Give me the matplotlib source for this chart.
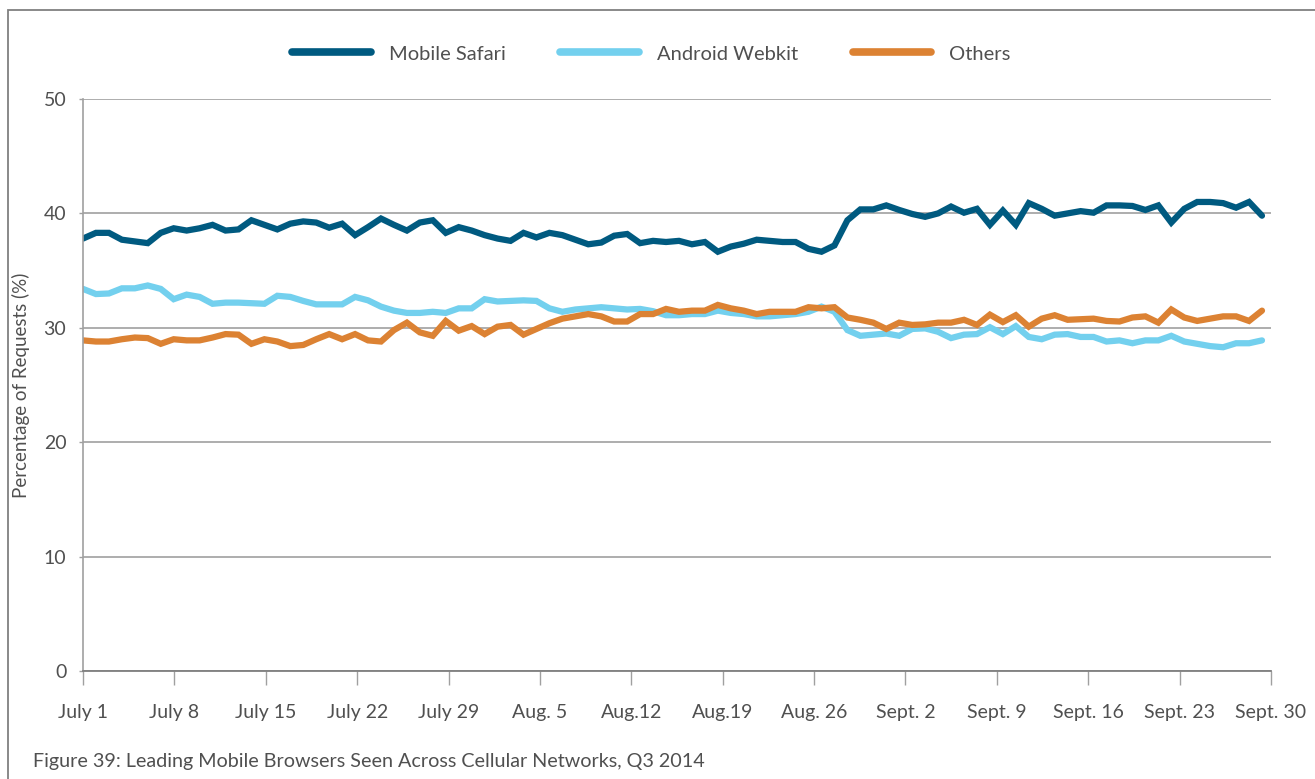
import numpy as np
import matplotlib
matplotlib.use("Agg")
import matplotlib.pyplot as plt
from matplotlib.patches import Rectangle

tick_labels = ["July 1", "July 8", "July 15", "July 22", "July 29", "Aug. 5", "Aug.12",
               "Aug.19", "Aug. 26", "Sept. 2", "Sept. 9", "Sept. 16", "Sept. 23", "Sept. 30"]

mobile_safari = [37.8, 38.3, 38.3, 37.7, 37.55, 37.4, 38.3, 38.7, 38.5, 38.7,
                 39.0, 38.5, 38.6, 39.4, 39.0, 38.6, 39.1, 39.3, 39.2, 38.75,
                 39.1, 38.1, 38.8, 39.55, 39.0, 38.5, 39.2, 39.4, 38.3, 38.8,
                 38.5, 38.1, 37.8, 37.6, 38.3, 37.9, 38.3, 38.1, 37.7, 37.3,
                 37.45, 38.05, 38.2, 37.4, 37.6, 37.5, 37.6, 37.3, 37.5, 36.65,
                 37.1, 37.35, 37.7, 37.6, 37.5, 37.5, 36.9, 36.65, 37.2, 39.4,
                 40.35, 40.35, 40.7, 40.3, 39.95, 39.7, 40.0, 40.6, 40.06, 40.4,
                 39.0, 40.25, 39.0, 40.9, 40.4, 39.8, 40.0, 40.2, 40.06, 40.7,
                 40.7, 40.65, 40.3, 40.7, 39.2, 40.4, 41.0, 41.0, 40.9, 40.5,
                 41.0, 39.8]

android_webkit = [33.4, 32.95, 33.0, 33.45, 33.45, 33.7, 33.4, 32.5, 32.9, 32.7,
                  32.1, 32.2, 32.2, 32.15, 32.1, 32.8, 32.7, 32.35, 32.05, 32.05,
                  32.05, 32.7, 32.4, 31.85, 31.5, 31.3, 31.3, 31.4, 31.3, 31.7,
                  31.7, 32.5, 32.3, 32.35, 32.4, 32.35, 31.7, 31.4, 31.6, 31.7,
                  31.8, 31.7, 31.6, 31.65, 31.45, 31.1, 31.1, 31.2, 31.2, 31.5,
                  31.3, 31.2, 31.0, 31.0, 31.1, 31.2, 31.4, 31.85, 31.4, 29.8,
                  29.3, 29.4, 29.5, 29.3, 29.9, 29.95, 29.65, 29.1, 29.4, 29.45,
                  30.05, 29.45, 30.15, 29.2, 29.0, 29.4, 29.45, 29.2, 29.2, 28.8,
                  28.9, 28.65, 28.9, 28.9, 29.3, 28.8, 28.6, 28.4, 28.3, 28.65,
                  28.65, 28.9]

others = [28.9, 28.8, 28.8, 29.0, 29.15, 29.1, 28.6, 29.0, 28.9, 28.9,
          29.15, 29.45, 29.4, 28.6, 29.0, 28.8, 28.4, 28.5, 29.0, 29.45,
          29.0, 29.45, 28.9, 28.8, 29.8, 30.45, 29.6, 29.3, 30.6, 29.75,
          30.15, 29.45, 30.1, 30.25, 29.4, 29.9, 30.4, 30.8, 31.0, 31.2,
          31.0, 30.55, 30.55, 31.2, 31.2, 31.65, 31.4, 31.5, 31.5, 32.0,
          31.7, 31.5, 31.2, 31.4, 31.4, 31.4, 31.8, 31.7, 31.8, 30.9,
          30.7, 30.45, 29.9, 30.45, 30.25, 30.3, 30.45, 30.45, 30.7, 30.25,
          31.15, 30.5, 31.1, 30.1, 30.8, 31.1, 30.7, 30.75, 30.8, 30.6,
          30.55, 30.9, 31.0, 30.45, 31.6, 30.9, 30.6, 30.8, 31.0, 31.0,
          30.6, 31.5]

series_names = ["Mobile Safari", "Android Webkit", "Others"]
series_colors = ["#005a80", "#73d0ee", "#dc8233"]

plt.rcParams['font.family'] = ['Lato', 'DejaVu Sans']
text_color = "#505050"

W, H = 1315, 779
fig = plt.figure(figsize=(W / 100, H / 100), dpi=100)
ax = fig.add_axes([83 / W, 1 - 671 / H, (1271 - 83) / W, (671 - 99) / H])

x = np.arange(len(mobile_safari))
x_end = (len(x) - 1) * 1187 / 1178

for vals, name, col in zip([mobile_safari, android_webkit, others], series_names, series_colors):
    ax.plot(x, vals, color=col, lw=4.5, label=name, solid_joinstyle='miter',
            solid_capstyle='round')

ax.set_xlim(0, x_end)
ax.set_ylim(0, 50)
ax.set_yticks(np.arange(0, 51, 10))
ax.set_xticks(np.linspace(0, x_end, len(tick_labels)))
ax.set_xticklabels(tick_labels)

ax.grid(axis='y', color='#a0a0a0', lw=1.2)
ax.set_axisbelow(True)
for s in ['top', 'right']:
    ax.spines[s].set_visible(False)
ax.spines['left'].set_color('#a0a0a0')
ax.spines['left'].set_linewidth(1.2)
ax.spines['bottom'].set_color('#7f7f7f')
ax.spines['bottom'].set_linewidth(1.3)

ax.tick_params(axis='x', direction='out', length=10, width=1, color='#a0a0a0',
               labelsize=14, labelcolor=text_color, pad=14)
ax.tick_params(axis='y', direction='out', length=3, width=1, color='#a0a0a0',
               labelsize=14, labelcolor=text_color, pad=9)

ax.set_ylabel("Percentage of Requests (%)", fontsize=13.5, color=text_color)
ax.yaxis.set_label_coords((30 - 83) / (1271 - 83), 0.5)

leg = fig.legend(loc='center', bbox_to_anchor=(651.5 / W, 1 - 54 / H), ncol=3,
                 frameon=False, fontsize=14.5, handlelength=3.9, handletextpad=0.9,
                 columnspacing=2.7)
for t in leg.get_texts():
    t.set_color(text_color)
for h in leg.get_lines():
    h.set_linewidth(5.5)

fig.text(33 / W, 1 - 761 / H, "Figure 39: Leading Mobile Browsers Seen Across Cellular Networks, Q3 2014",
         fontsize=14.2, color=text_color, va='center', ha='left')

border = Rectangle((8 / W, -0.05), 1.2, 1 - 10 / H + 0.05, transform=fig.transFigure,
                   fill=False, edgecolor='#808080', lw=1.3)
fig.add_artist(border)

fig.savefig("out.png", dpi=100)
